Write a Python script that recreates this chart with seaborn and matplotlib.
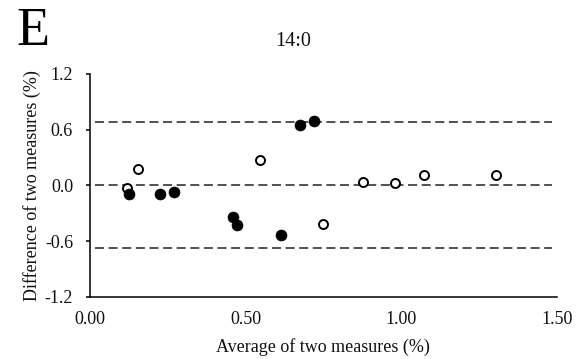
import matplotlib
matplotlib.use("Agg")
import matplotlib.pyplot as plt
import seaborn as sns
import pandas as pd
import numpy as np
from matplotlib.ticker import FormatStrFormatter

# Filled circles
filled_avg = [0.125, 0.225, 0.271, 0.459, 0.472, 0.615, 0.675, 0.720]
filled_diff = [-0.090, -0.090, -0.072, -0.345, -0.424, -0.539, 0.647, 0.690]
# Open circles
open_avg = [0.120, 0.153, 0.547, 0.748, 0.879, 0.981, 1.075, 1.305]
open_diff = [-0.029, 0.180, 0.273, -0.417, 0.036, 0.025, 0.115, 0.115]

# Mean difference and limits of agreement
ref_levels = [0.683, 0.005, -0.676]
ref_xrange = [0.015, 1.485]

x_ticks = [0.0, 0.5, 1.0, 1.5]
y_ticks = [-1.2, -0.6, 0.0, 0.6, 1.2]

title = "14:0"
panel = "E"
xlabel = "Average of two measures (%)"
ylabel = "Difference of two measures (%)"

sns.set_theme(style="white")
plt.rcParams["font.family"] = ["Liberation Serif", "DejaVu Serif"]
plt.rcParams["lines.scale_dashes"] = False

fig = plt.figure(figsize=(5.86, 3.59), dpi=100)
ax = fig.add_axes([0.1536, 0.1735, 0.950 - 0.1536, 0.7939 - 0.1735])

df_f = pd.DataFrame({"avg": filled_avg, "diff": filled_diff})
df_o = pd.DataFrame({"avg": open_avg, "diff": open_diff})

ax.hlines(ref_levels, ref_xrange[0], ref_xrange[1], colors="#222222",
          linewidth=1.1, linestyles=[(0, (6.5, 3.3))], zorder=1)

sns.scatterplot(data=df_o, x="avg", y="diff", ax=ax, s=42, marker="o",
                facecolor="white", edgecolor="black", linewidth=1.4, zorder=3)
sns.scatterplot(data=df_f, x="avg", y="diff", ax=ax, s=62, marker="o",
                color="black", edgecolor="black", linewidth=0.5, zorder=4)

ax.set_xlim(0, 1.5)
ax.set_ylim(-1.2, 1.2)
ax.set_xticks(x_ticks)
ax.set_yticks(y_ticks)
ax.xaxis.set_major_formatter(FormatStrFormatter("%.2f"))
ax.yaxis.set_major_formatter(FormatStrFormatter("%.1f"))

for s in ["top", "right"]:
    ax.spines[s].set_visible(False)
for s in ["left", "bottom"]:
    ax.spines[s].set_color("black")
    ax.spines[s].set_linewidth(1.1)

ax.tick_params(axis="y", which="major", direction="out", length=3.2, width=1.1,
               color="black", labelsize=13, pad=9, left=True)
ax.tick_params(axis="x", which="major", length=0, labelsize=13, pad=10.5,
               bottom=True)
for lab in ax.get_xticklabels() + ax.get_yticklabels():
    lab.set_color("#111111")

ax.set_xlabel(xlabel, fontsize=13, color="#111111", labelpad=7)
ax.set_ylabel(ylabel, fontsize=13, color="#111111", labelpad=3)

fig.text(0.5, 1 - 42 / 359, title, ha="center", va="center", fontsize=14.5,
         color="#111111")
fig.text(16 / 586, 1 - 45 / 359, panel, ha="left", va="baseline", fontsize=39,
         color="black")

fig.savefig("out.png", dpi=100, facecolor="white")
